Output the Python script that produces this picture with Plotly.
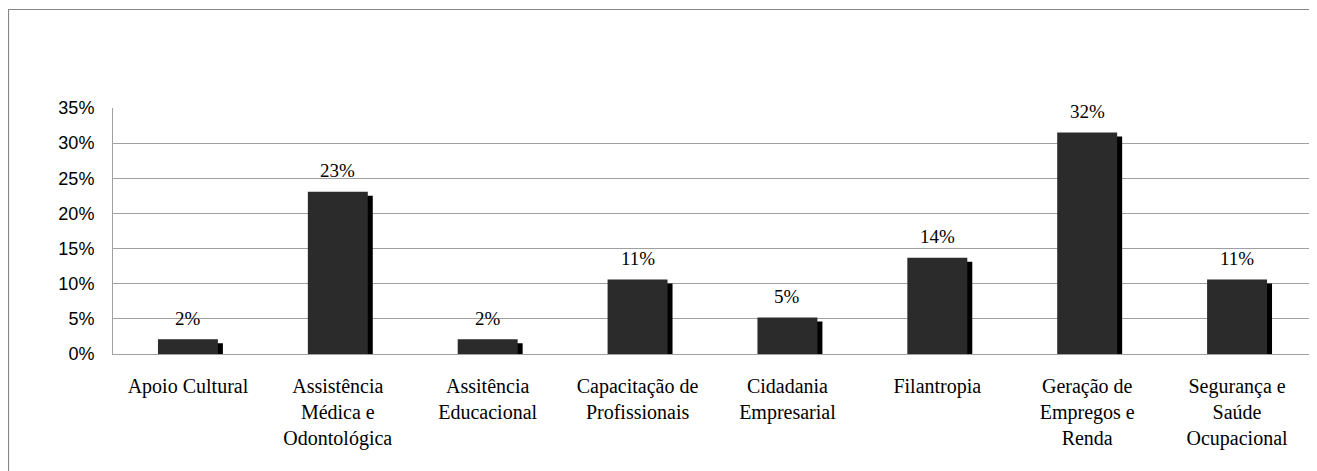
import plotly.graph_objects as go

categories = [
    "Apoio Cultural",
    "Assistência<br>Médica e<br>Odontológica",
    "Assitência<br>Educacional",
    "Capacitação de<br>Profissionais",
    "Cidadania<br>Empresarial",
    "Filantropia",
    "Geração de<br>Empregos e<br>Renda",
    "Segurança e<br>Saúde<br>Ocupacional",
]
values = [0.021, 0.231, 0.021, 0.106, 0.052, 0.137, 0.315, 0.106]
y_ticks = [0, 0.05, 0.10, 0.15, 0.20, 0.25, 0.30, 0.35]

SERIF = "'Times New Roman', 'Liberation Serif', Tinos, 'DejaVu Serif', serif"
SANS = "Arial, 'Liberation Sans', sans-serif"

# layout geometry (page body has an 8px default margin)
BODY = 8
W, H = 1317 - BODY, 471 - BODY
ML, MR, MT, MB = 113 - BODY, 5, 108 - BODY, 117
plot_h = H - MT - MB
y_max = 0.35
px_to_y = y_max / plot_h
bar_w = 0.4
shadow_dx = 5 / 150  # 5 px in category units
shadow_dy = 4 * px_to_y

fig = go.Figure()
fig.add_trace(go.Bar(
    x=categories,
    y=[v - shadow_dy for v in values],
    width=bar_w,
    offset=-bar_w / 2 + shadow_dx,
    marker=dict(color="#000000", line=dict(width=0)),
    hoverinfo="skip",
    showlegend=False,
))
fig.add_trace(go.Bar(
    x=categories,
    y=values,
    width=bar_w,
    offset=-bar_w / 2,
    marker=dict(color="#2b2b2b", line=dict(width=0)),
    hoverinfo="skip",
    showlegend=False,
))

for c, v in zip(categories, values):
    fig.add_annotation(
        x=c, y=v, text=f"{v:.0%}", showarrow=False,
        xanchor="center", yanchor="middle", yshift=21,
        font=dict(family=SERIF, size=19, color="#000000"),
    )

# outer chart border (cropped by the image edge on right/bottom)
fig.add_shape(
    type="rect", xref="paper", yref="paper",
    xsizemode="pixel", ysizemode="pixel", xanchor=0, yanchor=0,
    x0=8.5 - BODY - ML, x1=W - ML + 50, y0=-MB - 50, y1=plot_h + MT - (9 - BODY) - 0.5,
    line=dict(color="#868686", width=1.2), fillcolor="rgba(0,0,0,0)", layer="below",
)

fig.update_layout(
    width=W, height=H,
    margin=dict(l=ML, r=MR, t=MT, b=MB, pad=0),
    barmode="overlay",
    paper_bgcolor="#ffffff", plot_bgcolor="#ffffff",
    showlegend=False,
    font=dict(family=SERIF),
    xaxis=dict(
        type="category",
        showline=True, linecolor="#a0a0a0", linewidth=1,
        showgrid=False, ticks="outside", ticklen=14, tickcolor="rgba(0,0,0,0)",
        tickfont=dict(family=SERIF, size=20, color="#000000"),
        tickangle=0, fixedrange=True,
    ),
    yaxis=dict(
        range=[0, y_max], tickvals=y_ticks, tickformat=".0%",
        showgrid=True, gridcolor="#a0a0a0", gridwidth=1,
        showline=True, linecolor="#a0a0a0", linewidth=1,
        zeroline=False, ticks="", ticklabelstandoff=14,
        tickfont=dict(family=SANS, size=18, color="#000000"),
        fixedrange=True,
    ),
)
fig.write_html("out.html")
